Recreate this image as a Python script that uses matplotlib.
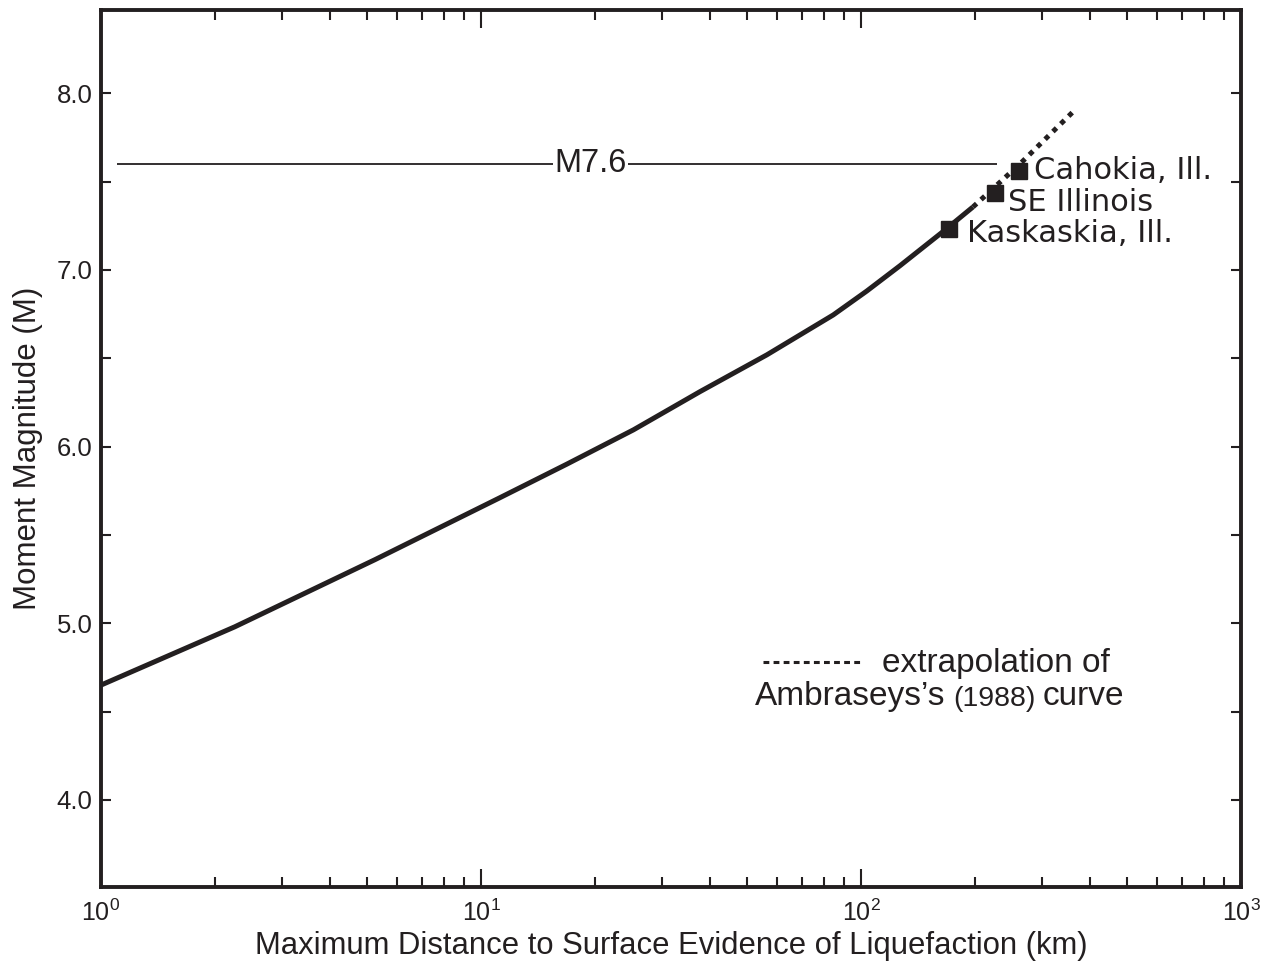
import matplotlib
matplotlib.use("Agg")
import matplotlib.pyplot as plt
from matplotlib.ticker import LogLocator, MultipleLocator, FixedLocator

INK = '#231f20'

# curve (distance km, moment magnitude)
dist_solid = [1.0, 2.25, 5.26, 11.2, 16.8, 25.2, 37.7, 56.5, 84.5, 103.5, 126.7, 164.4, 197]
mag_solid = [4.65, 4.98, 5.36, 5.71, 5.90, 6.095, 6.311, 6.519, 6.745, 6.88, 7.024, 7.217, 7.356]

# Ambraseys (1988) extrapolation
dist_ext = [197, 262, 361]
mag_ext = [7.356, 7.60, 7.894]

# sites
site_names = ['Kaskaskia, Ill.', 'SE Illinois', 'Cahokia, Ill.']
site_dist = [170.5, 225, 260.5]
site_mag = [7.23, 7.435, 7.56]
site_offsets = [(18, -4), (13, -9), (15, 0)]

m76 = 7.6
m76_range = (1.1, 228)
m76_label_x = 19.4

plt.rcParams['font.family'] = ['Liberation Sans', 'DejaVu Sans']

fig = plt.figure(figsize=(12.73, 9.61), dpi=100)
ax = fig.add_axes([0.0793, 0.0773, 0.8956, 0.9123])

ax.plot(dist_solid, mag_solid, color=INK, lw=3.6, solid_capstyle='butt',
        solid_joinstyle='round', zorder=3)
ax.plot(dist_ext, mag_ext, color=INK, lw=3.6, linestyle=(0, (1, 1.2)), zorder=3)
ax.plot(site_dist, site_mag, 's', color=INK, ms=11, zorder=4)

for name, d, m, off in zip(site_names, site_dist, site_mag, site_offsets):
    ax.annotate(name, (d, m), xytext=off, textcoords='offset pixels',
                ha='left', va='center', fontsize=22, color=INK,
                family='DejaVu Sans')

ax.hlines(m76, *m76_range, color=INK, lw=1.3, zorder=2)
ax.text(m76_label_x, m76, 'M7.6', ha='center', va='center', fontsize=23.5,
        color=INK, bbox=dict(facecolor='white', edgecolor='none', pad=1),
        zorder=2.5)

# legend key
ax.plot([0.581, 0.668], [0.256, 0.256], transform=ax.transAxes, color=INK,
        lw=2.2, linestyle=(0, (1.9, 1.4)))
ax.text(0.685, 0.245, 'extrapolation of', transform=ax.transAxes,
        fontsize=24, color=INK, va='baseline', ha='left')
t1 = ax.text(0.574, 0.207, 'Ambraseys\u2019s', transform=ax.transAxes,
             fontsize=24, color=INK, va='baseline', ha='left')
t2 = ax.annotate('(1988)', xy=(1, 0), xycoords=t1, xytext=(7, 0),
                 textcoords='offset pixels', fontsize=20.5, color=INK,
                 va='bottom', ha='left')
ax.annotate('curve', xy=(1, 0), xycoords=t2, xytext=(7, 0),
            textcoords='offset pixels', fontsize=24, color=INK,
            va='bottom', ha='left')

ax.set_xscale('log')
ax.set_xlim(1, 1000)
ax.set_ylim(3.509, 8.471)

ax.xaxis.set_major_locator(LogLocator(base=10, numticks=10))
ax.xaxis.set_minor_locator(LogLocator(base=10, subs=range(2, 10), numticks=10))
ax.yaxis.set_major_locator(FixedLocator([4.0, 5.0, 6.0, 7.0, 8.0]))
ax.yaxis.set_major_formatter(plt.FuncFormatter(lambda v, p: f'{v:.1f}'))
ax.yaxis.set_minor_locator(MultipleLocator(0.5))

ax.tick_params(axis='both', which='both', direction='in', top=True, right=True,
               colors=INK, width=1.5)
ax.tick_params(axis='x', which='major', length=13, pad=9, labelsize=18)
ax.tick_params(axis='x', which='minor', length=7.5)
ax.tick_params(axis='y', which='both', length=7, pad=6, labelsize=18.5)

for s in ax.spines.values():
    s.set_linewidth(2.8)
    s.set_color(INK)

ax.set_xlabel('Maximum Distance to Surface Evidence of Liquefaction (km)',
              fontsize=22.3, color=INK, labelpad=4)
ax.set_ylabel('Moment Magnitude (M)', fontsize=22.5, color=INK, labelpad=10)

fig.savefig('out.png', dpi=100)
